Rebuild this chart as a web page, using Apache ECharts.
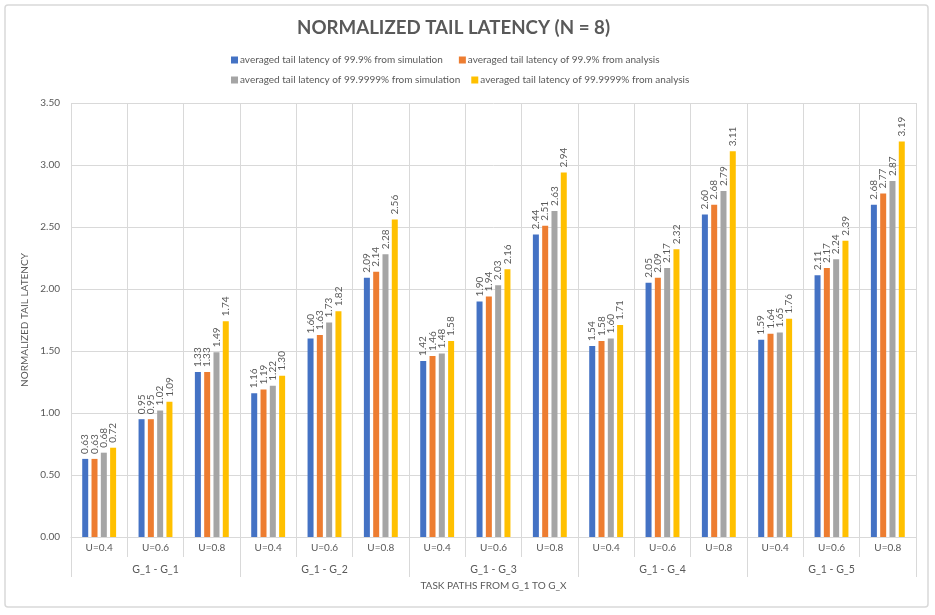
<!DOCTYPE html>
<html>
<head>
<meta charset="utf-8">
<script src="https://cdn.jsdelivr.net/npm/echarts@6/dist/echarts.min.js"></script>
<style>html,body{margin:0;padding:0;background:#fff}#c{width:935px;height:615px}</style>
</head>
<body>
<div id="c"></div>
<script>
var categories = ["U=0.4","U=0.6","U=0.8","U=0.4","U=0.6","U=0.8","U=0.4","U=0.6","U=0.8","U=0.4","U=0.6","U=0.8","U=0.4","U=0.6","U=0.8"];
var groups = ["G_1 - G_1","G_1 - G_2","G_1 - G_3","G_1 - G_4","G_1 - G_5"];
var seriesNames = [
  "averaged tail latency of 99.9% from simulation",
  "averaged tail latency of 99.9% from analysis",
  "averaged tail latency of 99.9999% from simulation",
  "averaged tail latency of 99.9999% from analysis"
];
var sim999 =    [0.63,0.95,1.33, 1.16,1.60,2.09, 1.42,1.90,2.44, 1.54,2.05,2.60, 1.59,2.11,2.68];
var ana999 =    [0.63,0.95,1.33, 1.19,1.63,2.14, 1.46,1.94,2.51, 1.58,2.09,2.68, 1.64,2.17,2.77];
var sim999999 = [0.68,1.02,1.49, 1.22,1.73,2.28, 1.48,2.03,2.63, 1.60,2.17,2.79, 1.65,2.24,2.87];
var ana999999 = [0.72,1.09,1.74, 1.30,1.82,2.56, 1.58,2.16,2.94, 1.71,2.32,3.11, 1.76,2.39,3.19];
var yTicks = [0,0.5,1,1.5,2,2.5,3,3.5];
var colors = ["#4472C4","#ED7D31","#A5A5A5","#FFC000"];

var FONT = "Lato";
var TXT = "#595959";
var chart = echarts.init(document.getElementById('c'));
var seriesData = [sim999, ana999, sim999999, ana999999];
var series = seriesData.map(function(d, i){
  return {
    name: seriesNames[i], type: 'bar', data: d, xAxisIndex: 0,
    barWidth: 6, barGap: '55%',
    itemStyle: {color: colors[i]},
    label: {show: true, position: 'top', rotate: 90, distance: 5,
      align: 'left', verticalAlign: 'middle',
      formatter: function(p){return p.value.toFixed(2);},
      color: TXT, fontFamily: FONT, fontSize: 10}
  };
});
var legendBase = {itemWidth: 7, itemHeight: 7, icon: 'rect', orient: 'horizontal',
  textStyle: {fontFamily: FONT, fontSize: 10, color: TXT, padding: [0,0,0,-3]}};
chart.setOption({
  animation: false,
  textStyle: {fontFamily: FONT},
  title: {text: 'NORMALIZED TAIL LATENCY (N = 8)', left: 292, top: 13,
    textStyle: {fontFamily: FONT, fontSize: 18.7, fontWeight: 'bold', color: TXT}},
  legend: [
    Object.assign({}, legendBase, {left: 226, top: 50, itemGap: 16, data: [seriesNames[0], seriesNames[1]]}),
    Object.assign({}, legendBase, {left: 226, top: 70, itemGap: 11, data: [seriesNames[2], seriesNames[3]]})
  ],
  graphic: [{type: 'rect', shape: {x: 5, y: 5, width: 923, height: 602, r: 3},
    style: {fill: 'none', stroke: '#d9d9d9', lineWidth: 1.5}, silent: true, z: -1}],
  grid: {left: 71, right: 19, top: 103, bottom: 78, containLabel: false},
  xAxis: [{
    type: 'category', data: categories, position: 'bottom',
    axisLine: {show: true, lineStyle: {color: '#d9d9d9'}},
    axisTick: {show: true, length: 20, interval: 0, lineStyle: {color: '#d9d9d9'}},
    axisLabel: {interval: 0, margin: 6, color: TXT, fontFamily: FONT, fontSize: 10},
    splitLine: {show: true, interval: 0, lineStyle: {color: '#d9d9d9'}}
  },{
    type: 'category', data: groups, position: 'bottom',
    axisLine: {show: false},
    axisTick: {show: true, length: 40, interval: 0, lineStyle: {color: '#d9d9d9'}},
    axisLabel: {interval: 0, margin: 27, color: TXT, fontFamily: FONT, fontSize: 10.5},
    name: 'TASK PATHS FROM G_1 TO G_X', nameLocation: 'middle', nameGap: 44,
    nameTextStyle: {color: TXT, fontFamily: FONT, fontSize: 10}
  }],
  yAxis: {
    type: 'value', min: 0, max: 3.5, interval: 0.5,
    axisLine: {show: false}, axisTick: {show: false},
    axisLabel: {margin: 11, color: TXT, fontFamily: FONT, fontSize: 10,
      formatter: function(v){return v.toFixed(2);}},
    splitLine: {lineStyle: {color: '#d9d9d9'}},
    name: 'NORMALIZED TAIL LATENCY', nameLocation: 'middle', nameGap: 36,
    nameTextStyle: {color: TXT, fontFamily: FONT, fontSize: 10}
  },
  series: series
});
</script>
</body>
</html>
